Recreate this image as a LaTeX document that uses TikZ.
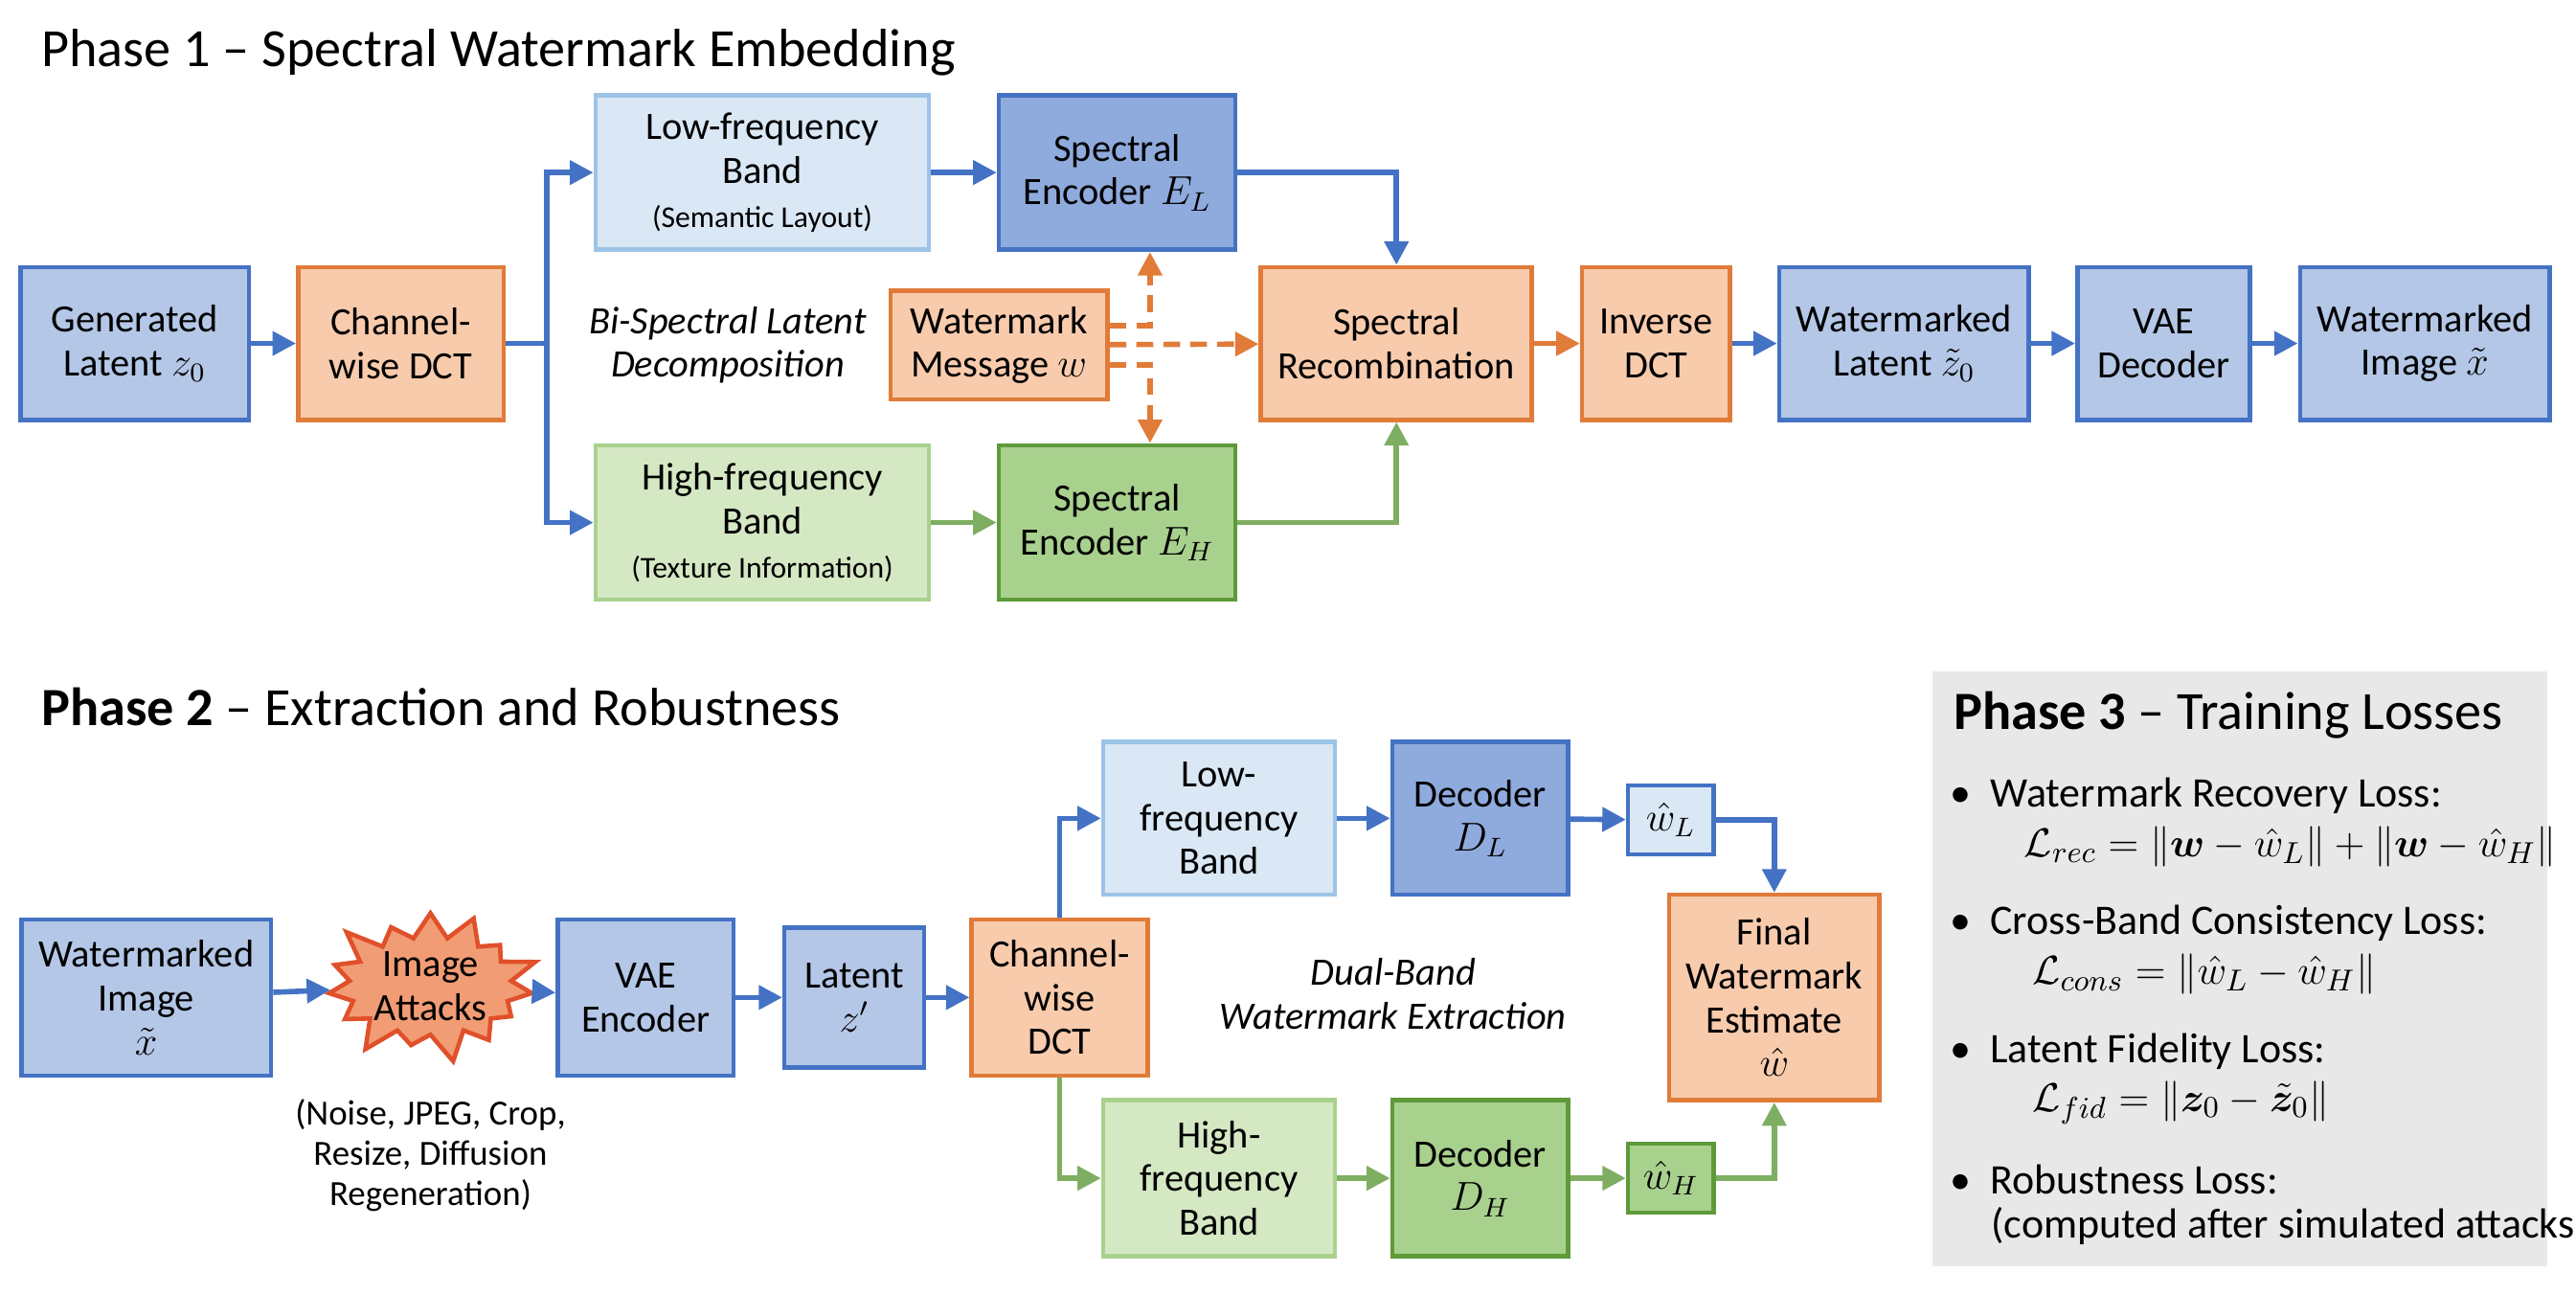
\documentclass[tikz,border=0pt]{standalone}
\usepackage{amsmath,amssymb,bm}
\usepackage{fontspec}
\setmainfont{Carlito}
\usepackage{tikz}
\usetikzlibrary{shapes,shapes.symbols,arrows.meta,positioning}

\definecolor{bluefill}{HTML}{B4C7E7}
\definecolor{blueline}{HTML}{4472C4}
\definecolor{dbluefill}{HTML}{8FAADC}
\definecolor{lbluefill}{HTML}{DAE8F5}
\definecolor{lblueline}{HTML}{9DC3E6}
\definecolor{orfill}{HTML}{F8CBAD}
\definecolor{orline}{HTML}{E07B39}
\definecolor{lgrfill}{HTML}{D5E8C4}
\definecolor{lgrline}{HTML}{A9D18E}
\definecolor{grfill}{HTML}{A9D18E}
\definecolor{grline}{HTML}{5E9A3A}
\definecolor{atkfill}{HTML}{F19C74}
\definecolor{atkline}{HTML}{E0502A}
\newcommand{\px}{0.01716cm}

\begin{document}
\begin{tikzpicture}[
    x=0.01716cm, y=-0.01716cm,
    box/.style={rectangle, draw, line width=1.3pt, align=center, inner sep=1pt,
        font=\fontsize{11.5}{13}\selectfont, minimum height=93*\px},
    blue/.style={box, fill=bluefill, draw=blueline},
    dblue/.style={box, fill=dbluefill, draw=blueline},
    lblue/.style={box, fill=lbluefill, draw=lblueline},
    orange/.style={box, fill=orfill, draw=orline},
    lgreen/.style={box, fill=lgrfill, draw=lgrline},
    green/.style={box, fill=grfill, draw=grline},
    arrow/.style={-{Triangle[length=7pt,width=7pt]}, line width=1.6pt, draw=blueline},
    garrow/.style={arrow, draw=grline!80},
    oarrow/.style={arrow, draw=orline},
    darrow/.style={oarrow, dashed, dash pattern=on 5pt off 3pt},
    title/.style={anchor=west, font=\fontsize{16}{18}\selectfont},
    item/.style={anchor=west, font=\fontsize{12.5}{14}\selectfont}
]
\useasboundingbox (0,0) rectangle (1568,788);

% Phase 1
\node[title] (t1) at (18,32) {Phase 1 -- Spectral Watermark Embedding};
\node[blue, minimum width=139*\px] (gen) at (82,209) {Generated\\Latent $z_0$};
\node[orange, minimum width=125*\px] (cdct) at (244,209) {Channel-\\wise DCT};
\node[lblue, minimum width=203*\px, minimum height=94*\px] (lowband) at (464,105) {Low-frequency\\Band\\{\small (Semantic Layout)}};
\node[dblue, minimum width=144*\px, minimum height=94*\px] (encL) at (680,105) {Spectral\\Encoder $E_L$};
\node[lgreen, minimum width=203*\px, minimum height=94*\px] (highband) at (464,318) {High-frequency\\Band\\{\small (Texture Information)}};
\node[green, minimum width=144*\px, minimum height=94*\px] (encH) at (680,318) {Spectral\\Encoder $E_H$};
\node[orange, minimum width=132*\px, minimum height=66*\px] (wm) at (608,210) {Watermark\\Message $w$};
\node[align=center, font=\fontsize{11.5}{13}\selectfont\itshape] (bilabel) at (443,210) {Bi-Spectral Latent\\Decomposition};
\node[orange, minimum width=165*\px] (recomb) at (850,209) {Spectral\\Recombination};
\node[orange, minimum width=90*\px] (idct) at (1008,209) {Inverse\\DCT};
\node[blue, minimum width=152*\px] (wlat) at (1159,209) {Watermarked\\Latent $\tilde{z}_0$};
\node[blue, minimum width=105*\px] (vaedec) at (1317,209) {VAE\\Decoder};
\node[blue, minimum width=152*\px] (wimg) at (1476,209) {Watermarked\\Image $\tilde{x}$};
\coordinate (split1) at (333,209);

\draw[arrow] (gen) -- (cdct);
\draw[line width=1.6pt, draw=blueline] (cdct) -- (split1);
\draw[arrow] (split1) |- (lowband);
\draw[arrow] (split1) |- (highband);
\draw[arrow] (lowband) -- (encL);
\draw[garrow] (highband) -- (encH);
\draw[arrow] (encL) -| (recomb);
\draw[garrow] (encH) -| (recomb);
\draw[darrow] ([yshift=12*\px]wm.east) -| ([xshift=20*\px]encL.south);
\draw[darrow] ([yshift=-12*\px]wm.east) -| ([xshift=20*\px]encH.north);
\draw[darrow] (wm) -- (recomb);
\draw[oarrow] (recomb) -- (idct);
\draw[arrow] (idct) -- (wlat);
\draw[arrow] (wlat) -- (vaedec);
\draw[arrow] (vaedec) -- (wimg);

% Phase 2
\node[title] (t2) at (18,430) {\textbf{Phase 2} -- Extraction and Robustness};
\node[blue, minimum width=152*\px, minimum height=95*\px] (wimg2) at (89,607) {Watermarked\\Image\\$\tilde{x}$};
\node[starburst, draw=atkline, fill=atkfill, line width=1.3pt, starburst points=15, starburst point height=10pt,
    minimum width=2.4cm, minimum height=1.6cm, inner sep=0pt, align=center,
    font=\fontsize{11.5}{13}\selectfont] (attack) at (262,600) {Image\\Attacks};
\node[align=center, font=\fontsize{10.5}{12}\selectfont] (atklabel) at (262,703) {(Noise, JPEG, Crop,\\Resize, Diffusion\\Regeneration)};
\node[blue, minimum width=107*\px, minimum height=95*\px] (vaeenc) at (393,607) {VAE\\Encoder};
\node[blue, minimum width=85*\px, minimum height=85*\px] (latent) at (520,607) {Latent\\$z'$};
\node[orange, minimum width=107*\px, minimum height=95*\px] (cdct2) at (645,607) {Channel-\\wise\\DCT};
\node[lblue, minimum width=141*\px] (low2) at (742,498) {Low-\\frequency\\Band};
\node[dblue, minimum width=107*\px] (decL) at (901,498) {Decoder\\$D_L$};
\node[lblue, draw=blueline, minimum width=52*\px, minimum height=42*\px] (wL) at (1017,499) {$\hat{w}_L$};
\node[lgreen, minimum width=141*\px, minimum height=95*\px] (high2) at (742,717) {High-\\frequency\\Band};
\node[green, minimum width=107*\px, minimum height=95*\px] (decH) at (901,717) {Decoder\\$D_H$};
\node[green, minimum width=52*\px, minimum height=42*\px] (wH) at (1017,717) {$\hat{w}_H$};
\node[orange, minimum width=128*\px, minimum height=125*\px] (final) at (1080,607) {Final\\Watermark\\Estimate\\$\hat{w}$};
\node[align=center, font=\fontsize{11.5}{13}\selectfont\itshape] (dblabel) at (848,605) {Dual-Band\\Watermark Extraction};

\draw[arrow] (wimg2) -- (attack);
\draw[arrow] (attack) -- (vaeenc);
\draw[arrow] (vaeenc) -- (latent);
\draw[arrow] (latent) -- (cdct2);
\draw[arrow] (cdct2) |- (low2);
\draw[garrow] (cdct2) |- (high2);
\draw[arrow] (low2) -- (decL);
\draw[arrow] (decL) -- (wL);
\draw[arrow] (wL) -| (final);
\draw[garrow] (high2) -- (decH);
\draw[garrow] (decH) -- (wH);
\draw[garrow] (wH) -| (final);

% Phase 3
\node[fill=black!9, minimum width=374*\px, minimum height=362*\px, anchor=north west] (lossbox) at (1176,408) {};
\node[title] (t3) at (1182,435) {\textbf{Phase 3} -- Training Losses};
\node[item] (l1) at (1180,484) {\textbullet\ \ Watermark Recovery Loss:};
\node[item] (m1) at (1225,515) {$\mathcal{L}_{rec}=\|\bm{w}-\hat{w}_L\|+\|\bm{w}-\hat{w}_H\|$};
\node[item] (l2) at (1180,562) {\textbullet\ \ Cross-Band Consistency Loss:};
\node[item] (m2) at (1230,593) {$\mathcal{L}_{cons}=\|\hat{w}_L-\hat{w}_H\|$};
\node[item] (l3) at (1180,640) {\textbullet\ \ Latent Fidelity Loss:};
\node[item] (m3) at (1230,671) {$\mathcal{L}_{fid}=\|\bm{z}_0-\tilde{\bm{z}}_0\|$};
\node[item] (l4) at (1180,718) {\textbullet\ \ Robustness Loss:};
\node[item] (m4) at (1205,746) {(computed after simulated attacks)};
\end{tikzpicture}
\end{document}
